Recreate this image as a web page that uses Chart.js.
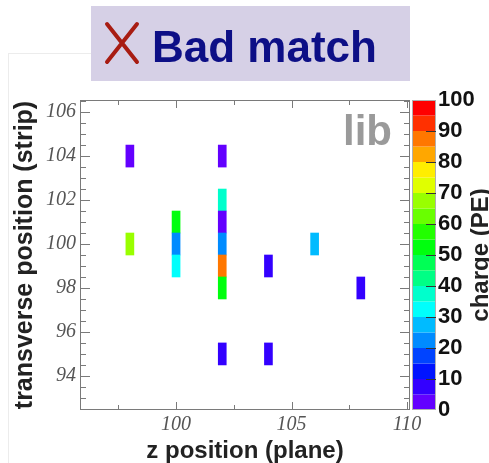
<!DOCTYPE html>
<html>
<head>
<meta charset="utf-8">
<title>Bad match</title>
<script src="https://cdn.jsdelivr.net/npm/chart.js@4.4.1/dist/chart.umd.min.js"></script>
<style>
  html, body { margin: 0; padding: 0; background: #fff; }
  canvas { display: block; }
</style>
</head>
<body>
<canvas id="hitMap" width="489" height="463"></canvas>
<script>
// Hits: plane (z), strip (transverse) and charge in PE
const planes  = [98, 102, 98, 100, 100, 100, 102, 102, 102, 102, 102, 104, 106, 108, 102, 104];
const strips  = [104, 104, 100, 101, 100, 99, 102, 101, 100, 99, 98, 99, 100, 98, 95, 95];
const charges = [3, 3, 67, 52, 22, 32, 37, 4, 23, 87, 53, 8, 27, 8, 8, 8];

const planeTicks  = [100, 105, 110];
const planeMinor  = [97.5, 102.5, 107.5];
const stripTicks  = [94, 96, 98, 100, 102, 104, 106];
const chargeTicks = [0, 10, 20, 30, 40, 50, 60, 70, 80, 90, 100];

const NLEVELS = 20;
const CHARGE_MAX = 100;
const SANS = "'Liberation Sans', Arial, sans-serif";
const SERIF = "'Liberation Serif', 'Times New Roman', serif";
const FRAME = '#7a7a7a';

// violet -> red spectrum, 50 colours sampled into 20 contour levels
function levelColor(j) {
    const idx = Math.floor((j + 0.99) * 50 / NLEVELS);
    const hue = 280 - (idx + 1) * 5.6;
    return `hsl(${Math.max(hue, 0)}, 100%, 50%)`;
}

function chargeColor(v) {
    const j = Math.min(NLEVELS - 1, Math.floor(v / (CHARGE_MAX / NLEVELS)));
    return levelColor(j);
}

const decor = {
    id: 'decor',
    beforeDraw(chart) {
        const ctx = chart.ctx;
        ctx.save();
        // faint pad border
        ctx.strokeStyle = '#ececec';
        ctx.lineWidth = 1;
        ctx.beginPath();
        ctx.moveTo(8.5, 53.5); ctx.lineTo(8.5, 463);
        ctx.moveTo(8, 53.5); ctx.lineTo(91, 53.5);
        ctx.stroke();

        // title box
        ctx.fillStyle = '#d6d0e6';
        ctx.fillRect(91, 6, 319, 75);
        ctx.strokeStyle = '#a81c12';
        ctx.lineWidth = 4;
        ctx.lineCap = 'round';
        ctx.beginPath();
        ctx.moveTo(107, 24); ctx.lineTo(137, 62);
        ctx.moveTo(137, 24); ctx.lineTo(107, 62);
        ctx.stroke();
        ctx.fillStyle = '#0d0f86';
        ctx.font = `bold 44px ${SANS}`;
        ctx.textBaseline = 'alphabetic';
        ctx.fillText('Bad match', 152, 62);
        ctx.restore();
    },
    afterDraw(chart) {
        const ctx = chart.ctx;
        const {x, y, z} = chart.scales;
        const a = chart.chartArea;
        ctx.save();

        // frame
        ctx.strokeStyle = FRAME;
        ctx.lineWidth = 1;
        ctx.strokeRect(a.left + 0.5, a.top + 0.5, a.right - a.left - 1, a.bottom - a.top - 1);

        // inward ticks on all four sides
        ctx.beginPath();
        const hTick = (v, len) => {
            const px = Math.round(x.getPixelForValue(v)) + 0.5;
            ctx.moveTo(px, a.bottom); ctx.lineTo(px, a.bottom - len);
            ctx.moveTo(px, a.top); ctx.lineTo(px, a.top + len);
        };
        planeTicks.forEach(v => hTick(v, 8));
        planeMinor.forEach(v => hTick(v, 5));
        for (let v = 93; v <= 106.5; v += 0.5) {
            const len = stripTicks.includes(v) ? 10 : 6;
            const py = Math.round(y.getPixelForValue(v)) + 0.5;
            ctx.moveTo(a.left, py); ctx.lineTo(a.left + len, py);
            ctx.moveTo(a.right, py); ctx.lineTo(a.right - len, py);
        }
        ctx.stroke();

        // colour scale
        const bx = 412, bw = 24;
        const step = CHARGE_MAX / NLEVELS;
        for (let j = 0; j < NLEVELS; j++) {
            const y0 = z.getPixelForValue(j * step);
            const y1 = z.getPixelForValue((j + 1) * step);
            ctx.fillStyle = levelColor(j);
            ctx.fillRect(bx, y1, bw, y0 - y1);
        }
        ctx.strokeStyle = '#b0b0b0';
        ctx.strokeRect(bx + 0.5, z.getPixelForValue(CHARGE_MAX) + 0.5, bw - 1, z.getPixelForValue(0) - z.getPixelForValue(CHARGE_MAX) - 1);
        ctx.strokeStyle = '#333';
        ctx.beginPath();
        chargeTicks.slice(1, -1).forEach(v => {
            const py = Math.round(z.getPixelForValue(v)) + 0.5;
            ctx.moveTo(bx + bw, py); ctx.lineTo(bx + bw - 10, py);
        });
        ctx.stroke();

        // colour scale title, reading upwards
        ctx.translate(481, (a.top + a.bottom) / 2);
        ctx.rotate(-Math.PI / 2);
        ctx.fillStyle = '#222';
        ctx.font = `bold 24px ${SANS}`;
        ctx.textAlign = 'center';
        ctx.textBaseline = 'middle';
        ctx.fillText('charge (PE)', 0, 0);
        ctx.restore();

        // library tag
        ctx.save();
        ctx.fillStyle = '#9a9a9a';
        ctx.font = `bold 42px ${SANS}`;
        ctx.textAlign = 'right';
        ctx.textBaseline = 'alphabetic';
        ctx.fillText('lib', 392, 145);
        ctx.restore();
    }
};

new Chart(document.getElementById('hitMap'), {
    type: 'bar',
    data: {
        datasets: [{
            data: planes.map((p, i) => ({ x: p, y: [strips[i] - 0.5, strips[i] + 0.5] })),
            backgroundColor: charges.map(chargeColor),
            borderWidth: 0,
            barThickness: 8
        }]
    },
    options: {
        responsive: false,
        animation: false,
        layout: { padding: { top: 100, left: 0, right: 0, bottom: 0 } },
        plugins: { legend: { display: false }, tooltip: { enabled: false } },
        scales: {
            x: {
                type: 'linear',
                offset: false,
                min: 95.84,
                max: 110.13,
                afterBuildTicks: s => { s.ticks = planeTicks.map(v => ({ value: v })); },
                afterFit: s => { s.height = 53; },
                grid: { display: false, drawTicks: false, offset: false },
                border: { display: false },
                ticks: { padding: 3, color: '#555', font: { family: SERIF, style: 'italic', size: 20 } },
                title: {
                    display: true, text: 'z position (plane)', color: '#222',
                    padding: { top: 0, bottom: 0 },
                    font: { family: SANS, weight: 'bold', size: 24, lineHeight: 1 }
                }
            },
            y: {
                type: 'linear',
                min: 92.45,
                max: 106.55,
                afterBuildTicks: s => { s.ticks = stripTicks.map(v => ({ value: v })); },
                afterFit: s => { s.width = 80; },
                grid: { display: false, drawTicks: false },
                border: { display: false },
                ticks: { padding: 4, color: '#555', font: { family: SERIF, style: 'italic', size: 20 } },
                title: {
                    display: true, text: 'transverse position (strip)', color: '#222',
                    padding: { top: 13, bottom: 0 },
                    font: { family: SANS, weight: 'bold', size: 25, lineHeight: 1 }
                }
            },
            z: {
                type: 'linear',
                axis: 'y',
                position: 'right',
                min: 0,
                max: CHARGE_MAX,
                afterBuildTicks: s => { s.ticks = chargeTicks.map(v => ({ value: v })); },
                afterFit: s => { s.width = 79; },
                grid: { display: false, drawTicks: false },
                border: { display: false },
                ticks: { padding: 28, color: '#111', font: { family: SANS, weight: 'bold', size: 22 } }
            }
        }
    },
    plugins: [decor]
});
</script>
</body>
</html>
